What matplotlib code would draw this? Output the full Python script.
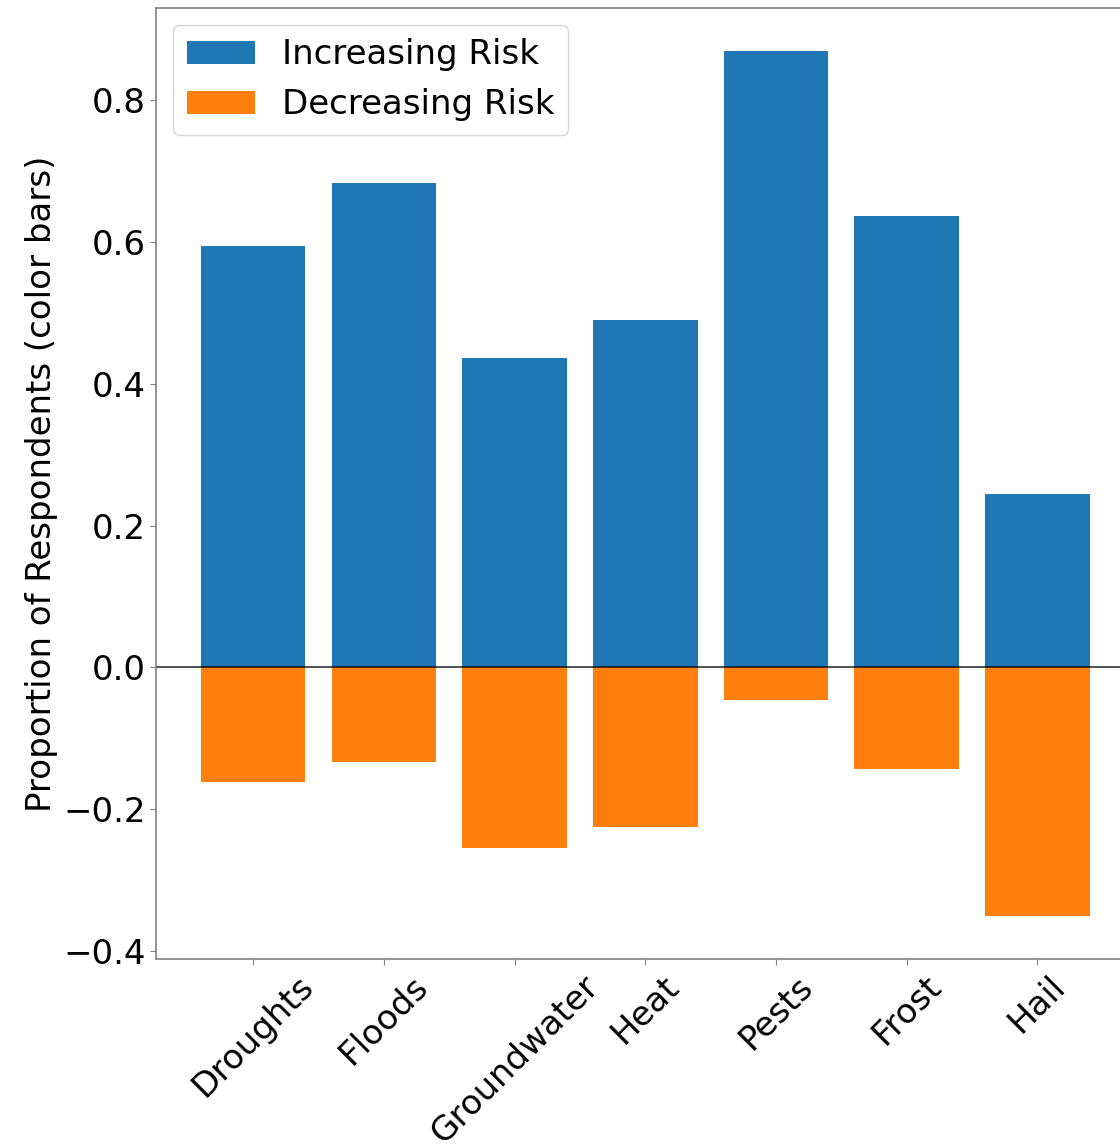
import numpy as np
import matplotlib
matplotlib.use('Agg')
import matplotlib.pyplot as plt

plt.rcParams['font.family'] = ['DejaVu Sans']

# share of respondents seeing each risk go up / down
hazards = ['Droughts', 'Floods', 'Groundwater', 'Heat', 'Pests', 'Frost', 'Hail']
increasing = [0.594, 0.683, 0.436, 0.490, 0.869, 0.636, 0.244]
decreasing = [0.161, 0.133, 0.255, 0.225, 0.046, 0.143, 0.350]

fs = 24.5

fig = plt.figure(figsize=(11.2, 11.46), dpi=100)
ax = fig.add_axes([0.1397, 0.1632, 0.873, 0.830])

x = np.arange(len(hazards))
ax.bar(x, increasing, width=0.8, color='#1f77b4', label='Increasing Risk')
ax.bar(x, -np.array(decreasing), width=0.8, color='#ff7f0e', label='Decreasing Risk')
ax.axhline(0, color='black', linewidth=1.2, alpha=0.8)

ax.set_xticks(x)
ax.set_xticklabels(hazards, rotation=45)
ax.set_ylabel('Proportion of Respondents (color bars)', fontsize=fs)
ax.tick_params(labelsize=fs, color='0.5', length=4)
for s in ax.spines.values():
    s.set_color('0.5')
    s.set_linewidth(1.2)

ax.legend(loc='upper left', fontsize=fs)

fig.savefig('out.png', dpi=100)
